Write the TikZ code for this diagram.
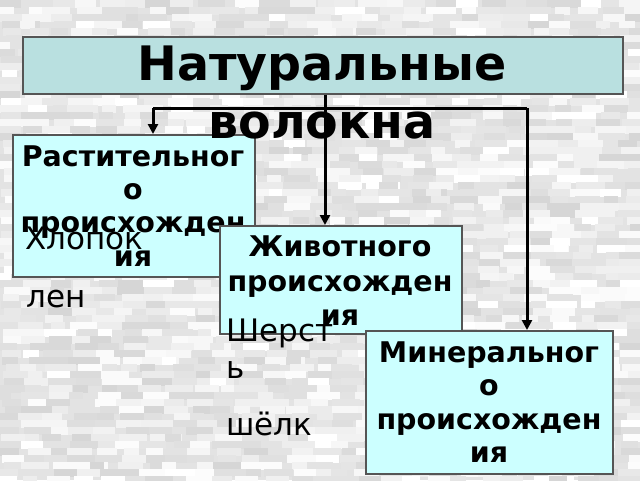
\documentclass[tikz,border=0pt]{standalone}
\usepackage{fontspec}
\setmainfont{DejaVu Sans}
\usetikzlibrary{arrows.meta}
\definecolor{titlefill}{HTML}{B9E0E0}
\definecolor{boxfill}{HTML}{CCFFFF}
\definecolor{edge}{HTML}{555555}
\tikzset{
  boxstyle/.style={draw=edge, line width=1.5pt, fill=boxfill, inner sep=0pt, anchor=north west},
  btext/.style={font=\fontsize{28.5}{33}\selectfont\bfseries, inner sep=0pt, anchor=base},
  ptext/.style={font=\fontsize{31}{38}\selectfont, inner sep=0pt, anchor=base west},
  ttext/.style={font=\fontsize{47.5}{58}\selectfont\bfseries, inner sep=0pt, anchor=base},
  arr/.style={line width=3pt, -{Triangle[length=10pt,width=10pt]}},
  conn/.style={line width=3pt}
}
\begin{document}
\begin{tikzpicture}[x=1pt,y=-1pt]
\useasboundingbox (0,0) rectangle (640,480);
% background texture
\fill[white!89!black] (0,0) rectangle (640,480);
\pgfmathsetseed{12345}
\foreach \j in {0,...,68}{
  \foreach \i in {0,...,26}{
    \pgfmathrandominteger{\g}{84}{100}
    \pgfmathrandominteger{\w}{14}{40}
    \pgfmathrandominteger{\dx}{-6}{6}
    \fill[white!\g!black] (\i*24+\dx,\j*7) rectangle ++(\w,7.6);
  }}
% title box
\node[boxstyle, fill=titlefill, minimum width=600pt, minimum height=57pt] (title) at (22,36) {};
% connectors
\coordinate (jl) at (153,108);
\coordinate (jc) at (325,108);
\coordinate (jr) at (527,108);
% boxes
\node[boxstyle, minimum width=242pt, minimum height=142pt] (rast) at (12,134) {};
\draw[conn] (jc |- title.south) -- (jc);
\draw[conn] (jl) -- (jr);
\draw[arr] (jl) -- (jl |- rast.north);
\node[ttext] (t1) at (322,80) {Натуральные};
\node[ttext] (t2) at (322,138) {волокна};
\node[btext] (r1) at (133,166) {Растительног};
\node[btext] (r2) at (133,199) {о};
\node[btext] (r3) at (133,232) {происхожден};
\node[btext] (r4) at (133,266) {ия};
\node[ptext] (p1) at (25,249) {Хлопок};
\node[ptext] (p2) at (26,307) {лен};
\node[boxstyle, minimum width=242pt, minimum height=108pt] (zhiv) at (219,225) {};
\draw[arr] (jc) -- (jc |- zhiv.north);
\node[btext] (z1) at (340,256) {Животного};
\node[btext] (z2) at (340,291) {происхожден};
\node[btext] (z3) at (340,325) {ия};
\node[ptext] (p3) at (226,341) {Шерст};
\node[ptext] (p4) at (226,378) {ь};
\node[ptext] (p5) at (226,435) {шёлк};
\draw[arr] (jr) -- (jr |- 0,330);
\node[boxstyle, minimum width=247pt, minimum height=143pt] (min) at (365,330) {};
\node[btext] (m1) at (489,362) {Минеральног};
\node[btext] (m2) at (489,395) {о};
\node[btext] (m3) at (489,429) {происхожден};
\node[btext] (m4) at (489,462) {ия};
\end{tikzpicture}
\end{document}
